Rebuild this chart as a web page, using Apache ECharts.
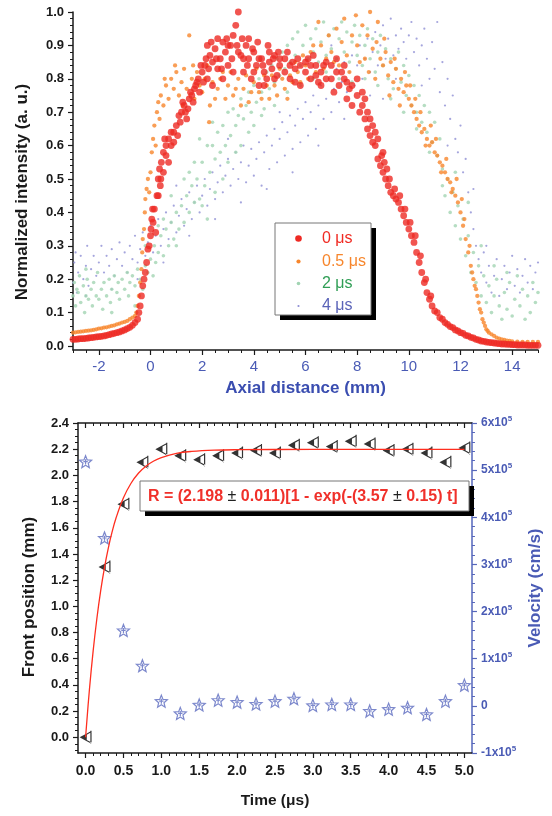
<!DOCTYPE html>
<html><head><meta charset="utf-8">
<script src="https://cdn.jsdelivr.net/npm/echarts@6/dist/echarts.min.js"></script>
<style>html,body{margin:0;padding:0;background:#fff}#c{width:552px;height:816px}</style>
</head><body><div id="c"></div><script>
const FONT = '"Liberation Sans", Arial, sans-serif';

// ---------- TOP PANEL: normalized intensity vs axial distance ----------
const seriesNames = ['0 μs', '0.5 μs', '2 μs', '4 μs'];
const topXTicks = [-2, 0, 2, 4, 6, 8, 10, 12, 14];
const topYTicks = [0, 0.1, 0.2, 0.3, 0.4, 0.5, 0.6, 0.7, 0.8, 0.9, 1.0];

const data0us = [[-3,0.02],[-2.9,0.02],[-2.8,0.021],[-2.7,0.022],[-2.6,0.022],[-2.5,0.023],[-2.4,0.024],[-2.3,0.025],[-2.2,0.026],[-2.1,0.027],[-2,0.028],[-1.9,0.029],[-1.8,0.03],[-1.7,0.032],[-1.6,0.034],[-1.5,0.036],[-1.4,0.038],[-1.3,0.04],[-1.2,0.042],[-1.1,0.045],[-1.0,0.048],[-0.9,0.052],[-0.8,0.056],[-0.7,0.062],[-0.6,0.07],[-0.5,0.08],[-0.45,0.1],[-0.4,0.12],[-0.35,0.15],[-0.3,0.18],[-0.25,0.2],[-0.2,0.22],[-0.15,0.25],[-0.1,0.29],[-0.05,0.3],[0,0.33],[0.02,0.35],[0.05,0.38],[0.08,0.41],[0.1,0.37],[0.15,0.41],[0.2,0.34],[0.25,0.45],[0.3,0.5],[0.35,0.53],[0.38,0.48],[0.42,0.55],[0.5,0.58],[0.55,0.62],[0.6,0.6],[0.7,0.62],[0.8,0.64],[0.9,0.61],[1.0,0.66],[1.1,0.69],[1.2,0.7],[1.3,0.72],[1.4,0.68],[1.5,0.74],[1.6,0.75],[1.7,0.77],[1.8,0.79],[1.9,0.76],[2.0,0.82],[2.1,0.84],[2.2,0.8],[2.3,0.87],[2.4,0.85],[2.5,0.89],[2.6,0.83],[2.7,0.86],[2.8,0.91],[2.9,0.88],[3.0,0.84],[3.1,0.9],[3.2,0.93],[3.3,0.96],[3.4,1.0],[3.5,0.87],[3.6,0.82],[3.7,0.9],[3.8,0.86],[3.9,0.8],[4.0,0.88],[4.1,0.84],[4.2,0.78],[4.3,0.86],[4.4,0.82],[4.5,0.8],[4.6,0.85],[4.7,0.83],[4.8,0.87],[4.9,0.81],[5.0,0.84],[5.2,0.82],[5.4,0.8],[5.5,0.85],[5.6,0.83],[5.8,0.78],[6.0,0.82],[6.1,0.86],[6.2,0.8],[6.4,0.84],[6.5,0.79],[6.6,0.82],[6.8,0.85],[7.0,0.8],[7.1,0.76],[7.2,0.82],[7.3,0.78],[7.5,0.8],[7.6,0.74],[7.7,0.77],[7.8,0.72],[8.0,0.75],[8.1,0.7],[8.2,0.72],[8.3,0.68],[8.4,0.65],[8.5,0.63],[8.6,0.61],[8.7,0.6],[8.8,0.56],[8.9,0.54],[9.0,0.52],[9.1,0.5],[9.2,0.48],[9.3,0.46],[9.4,0.45],[9.5,0.44],[9.6,0.43],[9.7,0.41],[9.8,0.39],[9.9,0.37],[10.0,0.35],[10.1,0.33],[10.2,0.31],[10.3,0.28],[10.4,0.25],[10.5,0.22],[10.6,0.19],[10.7,0.16],[10.8,0.14],[10.9,0.12],[11.0,0.105],[11.2,0.085],[11.4,0.07],[11.6,0.058],[11.8,0.048],[12.0,0.04],[12.2,0.032],[12.4,0.026],[12.6,0.02],[12.8,0.015],[13.0,0.012],[13.2,0.01],[13.4,0.008],[13.6,0.006],[13.8,0.005],[14.0,0.004],[14.2,0.003],[14.4,0.003],[14.6,0.002],[14.8,0.002],[15.0,0.002],
[2.2,0.9],[2.6,0.92],[3.0,0.9],[3.4,0.88],[3.8,0.92],[4.2,0.86],[4.6,0.88],[5.0,0.86],[5.4,0.84],[5.8,0.84],[6.2,0.84],[6.6,0.78],[7.0,0.84],[7.4,0.82],[7.8,0.78],[8.2,0.76],[2.4,0.78],[2.8,0.8],[3.2,0.82],[3.6,0.86],[4.0,0.82],[4.4,0.78],[4.8,0.8],[5.2,0.86],[5.6,0.79],[6.0,0.85],[6.4,0.81],[6.8,0.8],[7.2,0.86],[7.6,0.79],[8.0,0.8],[8.4,0.7],[8.6,0.66],[8.8,0.62],[9.0,0.58],
[9.05,0.55],[9.25,0.5],[9.45,0.47],[9.65,0.45],[9.85,0.41],[10.05,0.37],[10.25,0.33],[10.45,0.27],[10.65,0.2],[10.85,0.15],[11.1,0.1],[11.3,0.08],[11.5,0.065],[11.7,0.055],[11.9,0.045],[12.1,0.038],[12.3,0.03],[12.5,0.024],[12.7,0.018],[12.9,0.014],[13.1,0.011],[13.3,0.009],[13.5,0.007],[13.7,0.006],[13.9,0.005],[14.1,0.004],[14.3,0.003],[14.5,0.003],[14.7,0.002],[14.9,0.002],
[0.3,0.45],[0.4,0.5],[0.5,0.52],[0.6,0.57],[0.7,0.55],[0.8,0.6],[0.9,0.64],[1.05,0.63],[1.15,0.67],[1.25,0.73],[1.35,0.7],[1.45,0.71],[1.55,0.76],[1.65,0.73],[1.75,0.78],[1.85,0.8],[1.95,0.84],[2.05,0.79],[2.15,0.86],[2.25,0.83],
[2.35,0.91],[2.55,0.86],[2.75,0.83],[2.95,0.92],[3.15,0.86],[3.35,0.9],[3.55,0.92],[3.75,0.84],[3.95,0.89],[4.15,0.91],[4.35,0.84],[4.55,0.9],[4.75,0.86],[4.95,0.88],[5.3,0.88],[5.7,0.86],[6.3,0.87],[6.7,0.84],[7.5,0.84],[8.3,0.74],[8.5,0.68],[8.7,0.64],[8.95,0.57],[9.15,0.53]];

const data05us = [[-3,0.04],[-2.9,0.041],[-2.8,0.042],[-2.7,0.043],[-2.6,0.044],[-2.5,0.045],[-2.4,0.046],[-2.3,0.047],[-2.2,0.048],[-2.1,0.05],[-2.0,0.052],[-1.9,0.053],[-1.8,0.055],[-1.7,0.056],[-1.6,0.058],[-1.5,0.06],[-1.4,0.062],[-1.3,0.065],[-1.2,0.067],[-1.1,0.07],[-1.0,0.072],[-0.9,0.075],[-0.8,0.08],[-0.7,0.085],[-0.6,0.09],[-0.55,0.1],[-0.5,0.12],[-0.45,0.15],[-0.4,0.19],[-0.35,0.23],[-0.32,0.28],[-0.3,0.32],[-0.25,0.35],[-0.22,0.4],[-0.2,0.44],[-0.15,0.47],[-0.1,0.5],[-0.05,0.46],[0,0.52],[0.05,0.58],[0.1,0.62],[0.15,0.66],[0.2,0.6],[0.25,0.7],[0.3,0.73],[0.35,0.68],[0.4,0.75],[0.5,0.72],[0.6,0.78],[0.7,0.74],[0.8,0.8],[0.9,0.77],[1.0,0.82],[1.1,0.75],[1.2,0.79],[1.3,0.83],[1.4,0.77],[1.5,0.93],[1.6,0.8],[1.7,0.74],[1.8,0.82],[1.9,0.78],[2.0,0.76],[2.1,0.8],[2.2,0.84],[2.27,0.67],[2.4,0.79],[2.5,0.74],[2.6,0.77],[2.8,0.82],[3.0,0.78],[3.2,0.75],[3.4,0.8],[3.6,0.77],[3.8,0.73],[4.0,0.79],[4.2,0.76],[4.4,0.81],[4.6,0.74],[4.8,0.78],[5.0,0.83],[5.2,0.77],[5.4,0.81],[5.6,0.85],[5.8,0.79],[6.0,0.84],[6.2,0.88],[6.4,0.82],[6.5,0.97],[6.6,0.9],[6.8,0.86],[6.9,0.93],[7.0,0.88],[7.2,0.95],[7.3,0.84],[7.4,0.91],[7.5,0.98],[7.6,0.87],[7.8,0.93],[7.95,0.99],[8.0,0.9],[8.2,0.96],[8.3,0.86],[8.4,0.93],[8.5,1.0],[8.6,0.89],[8.75,0.91],[8.8,0.97],[8.9,0.86],[9.0,0.84],[9.1,0.88],[9.2,0.81],[9.3,0.85],[9.4,0.79],[9.5,0.83],[9.6,0.77],[9.7,0.8],[9.8,0.76],[9.9,0.78],[10.0,0.74],[10.1,0.72],[10.2,0.7],[10.3,0.68],[10.4,0.66],[10.5,0.64],[10.6,0.65],[10.7,0.62],[10.8,0.6],[10.9,0.61],[11.0,0.58],[11.1,0.57],[11.2,0.55],[11.3,0.54],[11.4,0.52],[11.5,0.5],[11.6,0.49],[11.7,0.47],[11.8,0.45],[11.9,0.43],[12.0,0.4],[12.1,0.36],[12.2,0.32],[12.3,0.28],[12.4,0.24],[12.5,0.2],[12.6,0.17],[12.7,0.13],[12.8,0.1],[12.9,0.07],[13.0,0.05],[13.1,0.04],[13.2,0.035],[13.3,0.03],[13.4,0.025],[13.5,0.022],[13.6,0.02],[13.7,0.018],[13.8,0.016],[13.9,0.015],[14.0,0.014],[14.2,0.013],[14.4,0.012],[14.6,0.012],[14.8,0.012],[15.0,0.012],
[0.55,0.8],[0.95,0.84],[1.25,0.72],[1.65,0.84],[2.3,0.72],[2.7,0.8],[2.9,0.74],[3.1,0.82],[3.3,0.77],[3.5,0.72],[3.7,0.81],[3.9,0.76],[4.1,0.83],[4.3,0.74],[4.5,0.78],[4.7,0.81],[4.9,0.75],[5.1,0.8],[5.3,0.74],[5.5,0.79],[5.7,0.82],[5.9,0.87],[6.1,0.8],[6.3,0.9],[6.7,0.83],[7.1,0.85],[7.7,0.82],[8.1,0.85],[8.45,0.82],[8.7,0.8],[9.05,0.92],[9.25,0.75],[9.45,0.86],[9.65,0.72],[9.85,0.82],[10.05,0.78],[10.25,0.74],[10.45,0.7],[10.65,0.6],[10.85,0.66],[11.05,0.62],[11.25,0.52],[11.45,0.56],[11.65,0.46],[11.85,0.5],[12.05,0.44],[12.15,0.38],[12.35,0.3],[12.45,0.22],[12.55,0.18],[12.65,0.15],[12.75,0.11],[12.85,0.08],[12.95,0.06],[13.05,0.045]];

const data2us = [[-3,0.15],[-2.95,0.19],[-2.9,0.12],[-2.85,0.17],[-2.8,0.16],[-2.75,0.21],[-2.7,0.13],[-2.6,0.18],[-2.55,0.1],[-2.5,0.15],[-2.45,0.2],[-2.4,0.14],[-2.3,0.17],[-2.25,0.12],[-2.2,0.19],[-2.1,0.15],[-2.05,0.22],[-2,0.14],[-1.9,0.17],[-1.85,0.11],[-1.8,0.19],[-1.7,0.15],[-1.6,0.2],[-1.55,0.13],[-1.5,0.17],[-1.4,0.21],[-1.3,0.16],[-1.25,0.19],[-1.2,0.14],[-1.1,0.2],[-1.0,0.17],[-0.9,0.22],[-0.85,0.15],[-0.8,0.19],[-0.7,0.21],[-0.6,0.18],[-0.5,0.23],[-0.4,0.2],[-0.3,0.17],[-0.2,0.24],[-0.1,0.22],[0,0.26],[0.1,0.21],[0.15,0.3],[0.2,0.25],[0.3,0.28],[0.4,0.33],[0.5,0.27],[0.6,0.35],[0.7,0.3],[0.8,0.37],[0.9,0.32],[1.0,0.4],[1.1,0.35],[1.2,0.42],[1.3,0.37],[1.4,0.45],[1.5,0.4],[1.6,0.48],[1.7,0.43],[1.8,0.5],[1.9,0.44],[2.0,0.55],[2.1,0.48],[2.2,0.6],[2.3,0.52],[2.4,0.6],[2.5,0.56],[2.6,0.64],[2.7,0.58],[2.8,0.66],[2.9,0.6],[3.0,0.7],[3.1,0.63],[3.2,0.71],[3.3,0.66],[3.4,0.69],[3.5,0.74],[3.6,0.68],[3.7,0.72],[3.8,0.76],[3.9,0.7],[4.0,0.78],[4.1,0.73],[4.2,0.8],[4.3,0.76],[4.4,0.71],[4.5,0.82],[4.6,0.77],[4.7,0.84],[4.8,0.79],[4.9,0.86],[5.0,0.81],[5.1,0.88],[5.2,0.83],[5.3,0.9],[5.4,0.85],[5.5,0.92],[5.6,0.87],[5.7,0.94],[5.8,0.84],[5.9,0.9],[6.0,0.96],[6.1,0.86],[6.2,0.92],[6.3,0.88],[6.4,0.95],[6.5,0.85],[6.6,0.91],[6.7,0.97],[6.8,0.87],[6.9,0.93],[7.0,0.89],[7.1,0.95],[7.2,0.86],[7.3,0.92],[7.4,0.97],[7.5,0.88],[7.6,0.94],[7.7,0.85],[7.8,0.91],[7.9,0.96],[8.0,0.87],[8.1,0.93],[8.2,0.84],[8.3,0.9],[8.4,0.95],[8.5,0.86],[8.6,0.92],[8.7,0.82],[8.8,0.88],[8.9,0.93],[9.0,0.84],[9.1,0.89],[9.2,0.8],[9.3,0.86],[9.4,0.77],[9.5,0.83],[9.6,0.88],[9.7,0.79],[9.8,0.84],[9.9,0.75],[10.0,0.81],[10.1,0.72],[10.2,0.78],[10.3,0.7],[10.4,0.75],[10.5,0.67],[10.6,0.72],[10.7,0.64],[10.8,0.7],[10.9,0.61],[11.0,0.67],[11.1,0.57],[11.2,0.62],[11.3,0.53],[11.4,0.45],[11.5,0.5],[11.6,0.4],[11.7,0.46],[11.8,0.36],[11.9,0.42],[12.0,0.32],[12.1,0.38],[12.2,0.27],[12.3,0.33],[12.4,0.22],[12.5,0.28],[12.6,0.19],[12.7,0.24],[12.8,0.15],[12.9,0.21],[13.0,0.13],[13.1,0.18],[13.2,0.1],[13.3,0.15],[13.4,0.2],[13.5,0.12],[13.6,0.08],[13.7,0.16],[13.8,0.11],[13.9,0.19],[14.0,0.09],[14.1,0.14],[14.2,0.21],[14.3,0.12],[14.4,0.17],[14.5,0.08],[14.6,0.15],[14.7,0.1],[14.8,0.19],[14.9,0.13],[15.0,0.16],
[0.5,0.38],[1.0,0.3],[1.5,0.52],[2.0,0.42],[2.5,0.46],[3.0,0.55],[3.5,0.6],[4.0,0.66],[1.9,0.62],[2.4,0.67],[2.8,0.5],[3.3,0.58],[3.8,0.64],[4.3,0.69],[4.8,0.72],[5.3,0.76],[5.8,0.78],[6.3,0.8],[6.8,0.82],[7.3,0.8],[7.8,0.79],[8.3,0.8],[8.8,0.78],[9.3,0.74],[9.8,0.7],[10.3,0.65],[10.8,0.58],[11.3,0.48],[11.8,0.52],[12.3,0.43],[12.8,0.3],[13.3,0.24],[13.8,0.22],[0.8,0.45],[1.3,0.5],[1.7,0.55],[2.2,0.38],[-0.6,0.12],[-1.5,0.1],[-2.5,0.23],[-0.2,0.3],[0.3,0.36]];

const data4us = [[-3,0.19],[-2.95,0.25],[-2.9,0.28],[-2.85,0.16],[-2.8,0.22],[-2.7,0.27],[-2.6,0.2],[-2.5,0.24],[-2.45,0.3],[-2.4,0.18],[-2.3,0.23],[-2.2,0.27],[-2.1,0.21],[-2.0,0.25],[-1.9,0.3],[-1.8,0.22],[-1.7,0.27],[-1.6,0.24],[-1.5,0.29],[-1.4,0.21],[-1.3,0.26],[-1.2,0.31],[-1.1,0.24],[-1.0,0.28],[-0.9,0.22],[-0.8,0.3],[-0.7,0.26],[-0.6,0.33],[-0.5,0.25],[-0.4,0.29],[-0.3,0.34],[-0.2,0.27],[-0.1,0.31],[0,0.36],[0.1,0.28],[0.2,0.33],[0.3,0.38],[0.4,0.3],[0.5,0.35],[0.6,0.4],[0.7,0.32],[0.8,0.37],[0.9,0.42],[1.0,0.34],[1.1,0.39],[1.2,0.44],[1.3,0.36],[1.4,0.41],[1.5,0.46],[1.6,0.38],[1.7,0.43],[1.8,0.48],[1.9,0.4],[2.0,0.45],[2.1,0.5],[2.2,0.42],[2.3,0.47],[2.4,0.52],[2.5,0.44],[2.6,0.49],[2.7,0.54],[2.8,0.46],[2.9,0.51],[3.0,0.56],[3.1,0.48],[3.2,0.53],[3.3,0.58],[3.4,0.5],[3.5,0.55],[3.6,0.6],[3.7,0.49],[3.8,0.54],[3.9,0.59],[4.0,0.51],[4.1,0.56],[4.2,0.61],[4.3,0.48],[4.4,0.58],[4.5,0.63],[4.6,0.53],[4.7,0.6],[4.8,0.65],[4.9,0.55],[5.0,0.62],[5.1,0.67],[5.2,0.57],[5.3,0.64],[5.4,0.69],[5.5,0.59],[5.6,0.66],[5.7,0.71],[5.8,0.61],[5.9,0.68],[6.0,0.73],[6.1,0.63],[6.2,0.7],[6.3,0.75],[6.4,0.65],[6.5,0.72],[6.6,0.78],[6.7,0.68],[6.8,0.74],[6.9,0.8],[7.0,0.7],[7.1,0.77],[7.2,0.83],[7.3,0.73],[7.4,0.79],[7.5,0.85],[7.6,0.76],[7.7,0.82],[7.8,0.87],[7.9,0.78],[8.0,0.84],[8.1,0.9],[8.2,0.8],[8.3,0.86],[8.4,0.92],[8.5,0.82],[8.6,0.88],[8.7,0.94],[8.8,0.84],[8.9,0.9],[9.0,0.96],[9.1,0.86],[9.2,0.92],[9.3,0.98],[9.4,0.87],[9.5,0.93],[9.6,0.89],[9.7,0.95],[9.8,0.91],[9.9,0.86],[10.0,0.93],[10.1,0.97],[10.2,0.88],[10.3,0.92],[10.4,0.84],[10.5,0.9],[10.6,0.95],[10.7,0.86],[10.8,0.8],[10.9,0.91],[11.0,0.83],[11.1,0.97],[11.2,0.76],[11.3,0.85],[11.4,0.72],[11.5,0.8],[11.6,0.68],[11.7,0.75],[11.8,0.62],[11.9,0.58],[12.0,0.66],[12.1,0.52],[12.2,0.56],[12.3,0.46],[12.4,0.4],[12.5,0.35],[12.6,0.3],[12.7,0.26],[12.8,0.22],[12.9,0.28],[13.0,0.19],[13.1,0.24],[13.2,0.16],[13.3,0.21],[13.4,0.26],[13.5,0.15],[13.6,0.2],[13.7,0.24],[13.8,0.17],[13.9,0.22],[14.0,0.27],[14.1,0.18],[14.2,0.23],[14.3,0.16],[14.4,0.21],[14.5,0.26],[14.6,0.19],[14.7,0.24],[14.8,0.17],[14.9,0.22],[15.0,0.25],
[0.5,0.25],[1.5,0.33],[2.5,0.38],[3.5,0.43],[4.5,0.47],[5.5,0.52],[6.5,0.6],[7.5,0.68],[8.5,0.75],[9.5,0.8],[10.5,0.78],[11.5,0.6],[12.5,0.47],[13.0,0.3],[-2.5,0.15],[-1.5,0.17],[-0.5,0.2],[1.0,0.48],[3.0,0.62],[5.0,0.7],[7.0,0.9],[9.0,0.74]];

// ---------- BOTTOM PANEL: front position & velocity vs time ----------
const timeTicks = [0, 0.5, 1.0, 1.5, 2.0, 2.5, 3.0, 3.5, 4.0, 4.5, 5.0];
const posTicks = [0, 0.2, 0.4, 0.6, 0.8, 1.0, 1.2, 1.4, 1.6, 1.8, 2.0, 2.2, 2.4];
const times = [0, 0.25, 0.5, 0.75, 1.0, 1.25, 1.5, 1.75, 2.0, 2.25, 2.5, 2.75, 3.0, 3.25, 3.5, 3.75, 4.0, 4.25, 4.5, 4.75, 5.0];
const frontPos = [0.0, 1.30, 1.78, 2.10, 2.20, 2.15, 2.12, 2.15, 2.17, 2.19, 2.17, 2.23, 2.25, 2.22, 2.26, 2.24, 2.19, 2.20, 2.17, 2.10, 2.21];
const velocity = [5.18e5, 3.56e5, 1.60e5, 0.85e5, 0.10e5, -0.16e5, 0.02e5, 0.12e5, 0.08e5, 0.04e5, 0.10e5, 0.15e5, 0.01e5, 0.03e5, 0.03e5, -0.11e5, -0.07e5, -0.04e5, -0.18e5, 0.10e5, 0.44e5];
// fit curve (red line)
const fitT = [0, 0.05, 0.1, 0.15, 0.2, 0.25, 0.3, 0.35, 0.4, 0.5, 0.6, 0.7, 0.8, 0.9, 1.0, 1.2, 1.4, 1.7, 2.0, 3.0, 4.0, 5.0];
const fitR = [0, 0.359, 0.660, 0.911, 1.122, 1.298, 1.445, 1.568, 1.671, 1.829, 1.940, 2.018, 2.072, 2.110, 2.136, 2.168, 2.183, 2.193, 2.196, 2.198, 2.198, 2.198];
const fitLabel = ['R = (2.198 ', '±', ' 0.011)[1 - exp(-(3.57 ', '±', ' 0.15) t]'];

function steps(a, b, s) { const r = []; for (let v = a; v <= b + 1e-9; v += s) r.push(+v.toFixed(4)); return r; }
const zip = (a, b) => a.map((v, i) => [v, b[i]]);

const BLACK = '#1a1a1a';
const BLUE_AX = '#4a5bb5';
const col = { red: '#ee2a24', orange: '#f7862c', green: '#a2d4b3', blue: '#8f8fd4' };
const legendTextCol = ['#f02a22', '#f7862c', '#2f9e55', '#5a63b8'];

const noShow = { show: false };
function baseAxis(extra) {
  return Object.assign({
    type: 'value', splitLine: noShow,
    axisLine: { show: true, onZero: false, lineStyle: { color: BLACK, width: 1.5 } },
    axisTick: { show: true, length: 5, lineStyle: { color: BLACK, width: 1.2 } },
    axisLabel: { show: false }
  }, extra);
}
function minorAxis(extra, vals, color, inside) {
  return Object.assign({
    type: 'value', splitLine: noShow,
    axisLine: { show: false, onZero: false },
    axisTick: { show: true, length: 3, inside: !!inside, customValues: vals, lineStyle: { color: color || BLACK, width: 1 } },
    axisLabel: { show: false }
  }, extra);
}

// left part solid black, right part drawn as a thin outline (separate strips, no holes)
const TRI = 'path://M0 5 L6 2 L6 8 Z M6 2 L10 0 L10 1 L6 3 Z M6 8 L10 10 L10 9 L6 7 Z M9 0 L10 0 L10 10 L9 10 Z';
const STAR = 'path://M10 0 L12.6 6.5 L19.5 6.9 L14.2 11.4 L15.9 18.1 L10 14.4 L4.1 18.1 L5.8 11.4 L0.5 6.9 L7.4 6.5 Z M10 5.5 L10 13 M6.5 9 L13.5 9';

const chart = echarts.init(document.getElementById('c'), null, { renderer: 'canvas' });

const option = {
  backgroundColor: '#fff',
  animation: false,
  textStyle: { fontFamily: FONT },
  grid: [
    { left: 73, right: 14, top: 12, bottom: 466 },
    { left: 78, right: 68, top: 423, bottom: 63 }
  ],
  xAxis: [
    baseAxis({
      gridIndex: 0, min: -3, max: 15, position: 'bottom',
      axisTick: { show: true, length: 5, customValues: topXTicks, lineStyle: { color: BLACK, width: 1.2 } },
      axisLabel: { show: true, customValues: topXTicks, color: BLUE_AX, fontSize: 15, margin: 9, fontFamily: FONT },
      name: 'Axial distance (mm)', nameLocation: 'middle', nameGap: 30,
      nameTextStyle: { color: '#3a4db0', fontSize: 17, fontWeight: 'bold', fontFamily: FONT }
    }),
    minorAxis({ gridIndex: 0, min: -3, max: 15, position: 'bottom' }, steps(-3, 15, 0.5)),
    baseAxis({
      gridIndex: 1, min: -0.1, max: 5.1, position: 'bottom',
      axisTick: { show: true, length: 5, customValues: timeTicks, lineStyle: { color: BLACK, width: 1.2 } },
      axisLabel: { show: true, customValues: timeTicks, formatter: v => v.toFixed(1), color: BLACK, fontSize: 14, fontWeight: 'bold', margin: 11, fontFamily: FONT },
      name: 'Time (μs)', nameLocation: 'middle', nameGap: 40,
      nameTextStyle: { color: BLACK, fontSize: 15.5, fontWeight: 'bold', fontFamily: FONT }
    }),
    minorAxis({ gridIndex: 1, min: -0.1, max: 5.1, position: 'bottom' }, steps(0, 5, 0.1)),
    baseAxis({
      gridIndex: 1, min: -0.1, max: 5.1, position: 'top',
      axisTick: { show: true, inside: true, length: 5, customValues: timeTicks, lineStyle: { color: BLACK, width: 1.2 } }
    }),
    minorAxis({ gridIndex: 1, min: -0.1, max: 5.1, position: 'top' }, steps(0, 5, 0.1), BLACK, true)
  ],
  yAxis: [
    baseAxis({
      gridIndex: 0, min: -0.012, max: 1.0, position: 'left',
      axisTick: { show: true, length: 5, customValues: topYTicks, lineStyle: { color: BLACK, width: 1.2 } },
      axisLabel: { show: true, customValues: topYTicks, formatter: v => v.toFixed(1), color: BLACK, fontSize: 13, fontWeight: 'bold', margin: 9, fontFamily: FONT },
      name: 'Normalized intensity (a. u.)', nameLocation: 'middle', nameGap: 42, nameRotate: 90,
      nameTextStyle: { color: BLACK, fontSize: 17, fontWeight: 'bold', fontFamily: FONT, padding: [0, 22, 0, 0] }
    }),
    minorAxis({ gridIndex: 0, min: -0.012, max: 1.0, position: 'left' }, steps(0, 1, 0.02)),
    baseAxis({
      gridIndex: 1, min: -0.12, max: 2.4, position: 'left',
      axisTick: { show: true, length: 5, customValues: posTicks, lineStyle: { color: BLACK, width: 1.2 } },
      axisLabel: { show: true, customValues: posTicks, formatter: v => v.toFixed(1), color: BLACK, fontSize: 13, fontWeight: 'bold', margin: 9, fontFamily: FONT },
      name: 'Front position (mm)', nameLocation: 'middle', nameGap: 40, nameRotate: 90,
      nameTextStyle: { color: BLACK, fontSize: 17, fontWeight: 'bold', fontFamily: FONT, padding: [0, 18, 0, 0] }
    }),
    minorAxis({ gridIndex: 1, min: -0.12, max: 2.4, position: 'left' }, steps(-0.1, 2.4, 0.05)),
    {
      type: 'value', gridIndex: 1, position: 'right', min: -1e5, max: 6e5, interval: 1e5,
      splitLine: noShow,
      axisLine: { show: true, onZero: false, lineStyle: { color: '#5566bb', width: 1.5 } },
      axisTick: { show: true, length: 5, lineStyle: { color: '#5566bb', width: 1.2 } },
      minorTick: { show: true, splitNumber: 5, length: 3, lineStyle: { color: '#5566bb', width: 1 } },
      axisLabel: {
        show: true, margin: 9, color: '#4a5bb5',
        formatter: v => v === 0 ? '{m|0}' : '{m|' + (v / 1e5) + 'x10}{e|5}',
        rich: {
          m: { fontSize: 12, fontWeight: 'bold', color: '#4a5bb5', fontFamily: FONT },
          e: { fontSize: 8, fontWeight: 'bold', color: '#4a5bb5', fontFamily: FONT, padding: [0, 0, 8, 0] }
        }
      },
      name: 'Velocity (cm/s)', nameLocation: 'middle', nameGap: 47, nameRotate: 90,
      nameTextStyle: { color: '#4a5bb5', fontSize: 17, fontWeight: 'bold', fontFamily: FONT }
    }
  ],
  series: [
    { name: seriesNames[3], type: 'scatter', xAxisIndex: 0, yAxisIndex: 0, data: data4us, symbol: 'circle', symbolSize: 2.2, clip: false, itemStyle: { color: col.blue } },
    { name: seriesNames[2], type: 'scatter', xAxisIndex: 0, yAxisIndex: 0, data: data2us, symbol: 'circle', symbolSize: 3.6, clip: false, itemStyle: { color: col.green } },
    { name: seriesNames[1], type: 'scatter', xAxisIndex: 0, yAxisIndex: 0, data: data05us, symbol: 'circle', symbolSize: 4.3, clip: false, itemStyle: { color: col.orange } },
    { name: seriesNames[0], type: 'scatter', xAxisIndex: 0, yAxisIndex: 0, data: data0us, symbol: 'circle', symbolSize: 6.8, clip: false, itemStyle: { color: col.red } },
    { name: 'fit', type: 'line', xAxisIndex: 2, yAxisIndex: 2, data: zip(fitT, fitR), smooth: 0.4, showSymbol: false, symbol: 'none', lineStyle: { color: '#ff2e1f', width: 1.3 } },
    { name: 'Front position', type: 'scatter', xAxisIndex: 2, yAxisIndex: 2, data: zip(times, frontPos), symbol: TRI, symbolSize: [12, 13], clip: false, itemStyle: { color: '#000' } },
    { name: 'Velocity', type: 'scatter', xAxisIndex: 2, yAxisIndex: 4, data: zip(times, velocity), symbol: STAR, symbolSize: 12, clip: false, itemStyle: { color: 'rgba(255,255,255,0)', borderColor: '#5b6abf', borderWidth: 1.2 } }
  ],
  graphic: {
    elements: [
      // legend box (top panel)
      { type: 'rect', z: 100, shape: { x: 280, y: 228, width: 96, height: 92 }, style: { fill: '#000' } },
      { type: 'rect', z: 101, shape: { x: 275, y: 223, width: 96, height: 92 }, style: { fill: '#fff', stroke: '#777', lineWidth: 1 } },
      { type: 'circle', z: 102, shape: { cx: 298.5, cy: 238.5, r: 3.3 }, style: { fill: col.red } },
      { type: 'circle', z: 102, shape: { cx: 298.5, cy: 261.5, r: 2.1 }, style: { fill: col.orange } },
      { type: 'circle', z: 102, shape: { cx: 298.5, cy: 283.5, r: 1.8 }, style: { fill: col.green } },
      { type: 'circle', z: 102, shape: { cx: 298.5, cy: 306, r: 1.1 }, style: { fill: col.blue } },
      { type: 'text', z: 102, x: 322, y: 238.5, style: { text: seriesNames[0], fill: legendTextCol[0], font: '16px ' + FONT, verticalAlign: 'middle' } },
      { type: 'text', z: 102, x: 322, y: 261.5, style: { text: seriesNames[1], fill: legendTextCol[1], font: '16px ' + FONT, verticalAlign: 'middle' } },
      { type: 'text', z: 102, x: 322, y: 283.5, style: { text: seriesNames[2], fill: legendTextCol[2], font: '16px ' + FONT, verticalAlign: 'middle' } },
      { type: 'text', z: 102, x: 322, y: 306, style: { text: seriesNames[3], fill: legendTextCol[3], font: '16px ' + FONT, verticalAlign: 'middle' } },
      // fit equation box (bottom panel)
      { type: 'rect', z: 100, shape: { x: 145, y: 486, width: 329, height: 30 }, style: { fill: '#000' } },
      { type: 'rect', z: 101, shape: { x: 140, y: 481, width: 329, height: 30 }, style: { fill: '#fff', stroke: '#777', lineWidth: 1 } },
      {
        type: 'text', z: 102, x: 148, y: 497,
        style: {
          text: '{r|' + fitLabel[0] + '}{p|' + fitLabel[1] + '}{r|' + fitLabel[2] + '}{p|' + fitLabel[3] + '}{r|' + fitLabel[4] + '}',
          verticalAlign: 'middle',
          rich: {
            r: { fill: '#f0302a', font: 'bold 16px ' + FONT },
            p: { fill: '#222', font: '16px ' + FONT }
          }
        }
      }
    ]
  }
};
chart.setOption(option);
</script></body></html>
